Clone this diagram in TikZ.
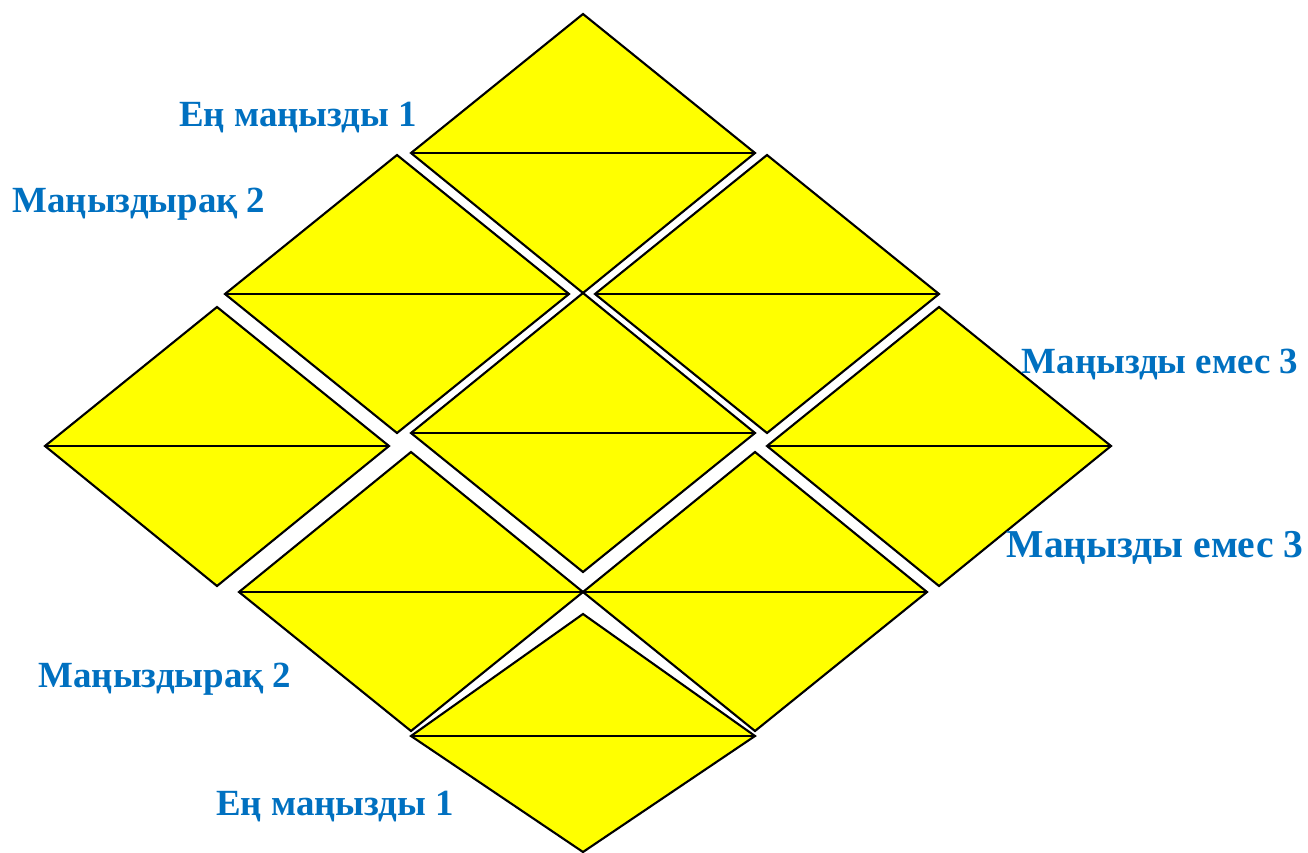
\documentclass[tikz,border=0pt]{standalone}
\usepackage{fontspec}
\setmainfont{Liberation Serif}
\usepackage{xcolor}

\definecolor{lblue}{RGB}{0,112,192}
\definecolor{ryellow}{RGB}{255,255,0}
\tikzset{
	romb/.style={fill=ryellow, draw=black, line width=1.2pt, line join=miter},
	lbl/.style={text=lblue, font=\bfseries\fontsize{21}{25}\selectfont, anchor=base, inner sep=0pt}
}

\begin{document}
\begin{tikzpicture}[x=0.02cm, y=-0.02cm]
	\useasboundingbox (0,0) rectangle (1308,852);
	% rhombs: centre x / centre y / upper half / lower half
	\foreach \cx/\cy/\ht/\hb in {583/153/139/140, 397/294/139/139, 767/294/139/139,
		217/446/139/140, 583/433/140/139, 939/446/139/140,
		411/592/140/139, 755/592/140/139, 583/736/122/116}
	{
		\filldraw[romb] (\cx-172,\cy) -- (\cx,\cy-\ht) -- (\cx+172,\cy) -- (\cx,\cy+\hb) -- cycle;
		\draw[romb, fill=none] (\cx-172,\cy) -- (\cx+172,\cy);
	}
	\node[lbl] (enA) at (298,126) {Ең маңызды 1};
	\node[lbl] (mnA) at (139,212) {Маңыздырақ 2};
	\node[lbl] (emA) at (1160,373) {Маңызды емес 3};
	\node[lbl, font=\bfseries\fontsize{22.5}{27}\selectfont] (emB) at (1155,557) {Маңызды емес 3};
	\node[lbl] (mnB) at (165,687) {Маңыздырақ 2};
	\node[lbl] (enB) at (335,815) {Ең маңызды 1};
\end{tikzpicture}
\end{document}
